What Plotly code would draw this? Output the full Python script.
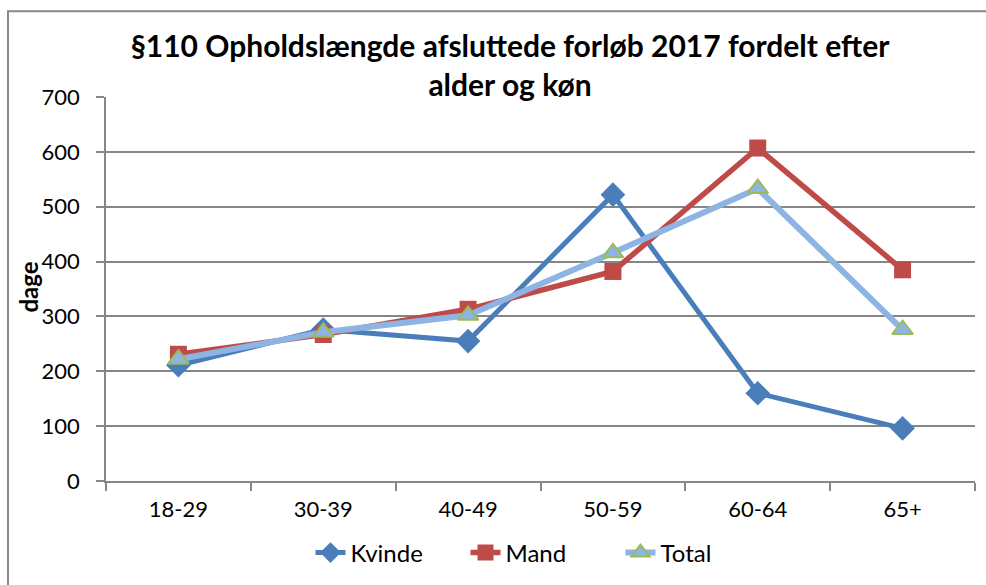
import plotly.graph_objects as go

categories = ["18-29", "30-39", "40-49", "50-59", "60-64", "65+"]
kvinde = [211, 276, 255, 522, 160, 96]
mand = [231, 267, 313, 382, 607, 385]
total = [222, 271, 302, 416, 533, 276]
y_ticks = [0, 100, 200, 300, 400, 500, 600, 700]

FONT = "Lato, 'Open Sans', sans-serif"

L, R, T, B = 106, 11, 97, 103
PW, PH = 986 - L - R, 585 - T - B

fig = go.Figure()
fig.add_trace(go.Scatter(x=categories, y=kvinde, name="Kvinde", mode="lines+markers",
                         line=dict(color="#4A7EBB", width=5),
                         marker=dict(symbol="diamond", size=19, color="#4A7EBB")))
fig.add_trace(go.Scatter(x=categories, y=mand, name="Mand", mode="lines+markers",
                         line=dict(color="#BE4B48", width=5.5),
                         marker=dict(symbol="square", size=17, color="#BE4B48")))
fig.add_trace(go.Scatter(x=categories, y=total, name="Total", mode="lines+markers",
                         line=dict(color="#8DB4E2", width=6),
                         marker=dict(symbol="triangle-up", size=18, color="#8DB4E2",
                                     line=dict(color="#9BBB59", width=2))))

fig.update_layout(
    width=986, height=585,
    margin=dict(l=L, r=R, t=T, b=B),
    paper_bgcolor="white", plot_bgcolor="white",
    font=dict(family=FONT, size=22, color="black"),
    title=dict(text="<b>§110 Opholdslængde afsluttede forløb 2017 fordelt efter<br>alder og køn</b>",
               x=(510 / 986), xanchor="center", y=(1 - 57 / 585), yanchor="top",
               font=dict(family=FONT, size=30, color="black")),
    showlegend=True,
    legend=dict(orientation="h", x=(543 - L) / PW, xanchor="center",
                y=(PH + T - 553) / PH, yanchor="middle",
                font=dict(family=FONT, size=24), entrywidth=110, tracegroupgap=0),
    xaxis=dict(type="category", range=[-0.5, 5.5], showgrid=False, showline=True,
               linecolor="#868686", linewidth=1.5,
               ticks="outside", tickson="boundaries", ticklen=8, tickcolor="#868686", tickwidth=1.5,
               ticklabelstandoff=8, tickfont=dict(size=22)),
    yaxis=dict(range=[0, 700], tickvals=y_ticks, showgrid=True, gridcolor="#868686", gridwidth=1.5,
               showline=True, linecolor="#868686", linewidth=1.5, zeroline=False,
               ticks="outside", ticklen=8, tickcolor="#868686", tickwidth=1.5,
               ticklabelstandoff=12, tickfont=dict(size=22)),
)

fig.add_annotation(text="<b>dage</b>", textangle=-90, xref="paper", yref="paper",
                   x=(29 - L) / PW, y=(PH + T - 288) / PH, xanchor="center", yanchor="middle",
                   showarrow=False, font=dict(family=FONT, size=24, color="black"))

fig.add_shape(type="rect", xref="paper", yref="paper",
              x0=(8 - L) / PW, x1=(1000 - L) / PW,
              y0=-0.5, y1=(PH + T - 11) / PH,
              line=dict(color="#888888", width=2), fillcolor="rgba(0,0,0,0)", layer="below")

fig.write_html("out.html", config={"displayModeBar": False},
               post_script="document.body.style.margin='0';document.body.style.overflow='hidden';")
